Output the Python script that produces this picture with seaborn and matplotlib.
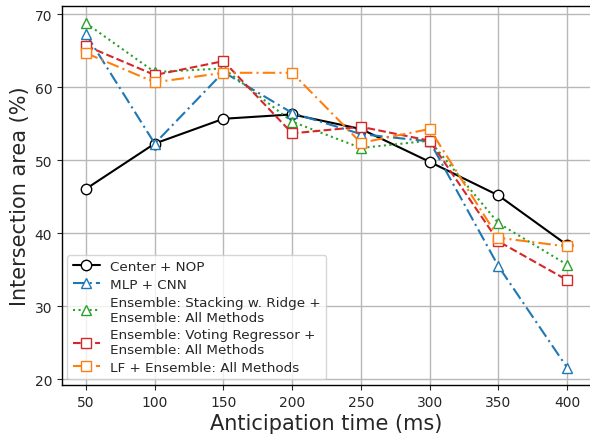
import matplotlib
matplotlib.use("Agg")
import matplotlib.pyplot as plt
import seaborn as sns
import pandas as pd

times = [50, 100, 150, 200, 250, 300, 350, 400]
center_nop = [46.1, 52.3, 55.7, 56.3, 54.3, 49.8, 45.2, 38.4]
mlp_cnn = [67.3, 52.3, 62.1, 56.5, 53.6, 52.6, 35.5, 21.6]
stacking = [68.8, 62.1, 62.6, 55.3, 51.7, 52.7, 41.4, 35.7]
voting = [65.7, 61.7, 63.6, 53.7, 54.6, 52.7, 38.9, 33.6]
lf_ens = [64.7, 60.7, 62.0, 62.0, 52.4, 54.3, 39.4, 38.2]

labels = ["Center + NOP", "MLP + CNN",
          "Ensemble: Stacking w. Ridge +\nEnsemble: All Methods",
          "Ensemble: Voting Regressor +\nEnsemble: All Methods",
          "LF + Ensemble: All Methods"]
series = [center_nop, mlp_cnn, stacking, voting, lf_ens]
colors = ["black", "#1f77b4", "#2ca02c", "#d62728", "#ff7f0e"]
markers = ["o", "^", "^", "s", "s"]
linestyles = ["-", (0, (6, 2, 1, 2)), ":", "--", (0, (6, 2, 1, 2))]

sns.set_style("ticks")
plt.rcParams['font.family'] = ['DejaVu Sans']
fig = plt.figure(figsize=(5.9, 4.35), dpi=100)
ax = fig.add_axes([0.105, 0.113, 0.897, 0.871])

for lab, vals, c, m, ls in zip(labels, series, colors, markers, linestyles):
    df = pd.DataFrame({"t": times, "v": vals})
    sns.lineplot(data=df, x="t", y="v", ax=ax, color=c, marker=m,
                 markersize=7.5, markerfacecolor="white", markeredgecolor=c,
                 markeredgewidth=1.0, linewidth=1.5, linestyle=ls, label=lab)

ax.set_xticks(times)
ax.set_yticks([20, 30, 40, 50, 60, 70])
ax.grid(True, color="#b8b8b8", linewidth=1.0)
ax.set_axisbelow(True)
ax.tick_params(labelsize=10, direction="out", length=3.5)
ax.set_xlabel("Anticipation time (ms)", fontsize=15, labelpad=3)
ax.set_ylabel("Intersection area (%)", fontsize=15, labelpad=3)
for s in ax.spines.values():
    s.set_color("black")
    s.set_linewidth(1.0)
ax.legend(loc="lower left", fontsize=9.7, frameon=True, framealpha=0.8,
          handlelength=2.0, borderaxespad=0.4, labelspacing=0.35)
fig.savefig("out.png", dpi=100)
